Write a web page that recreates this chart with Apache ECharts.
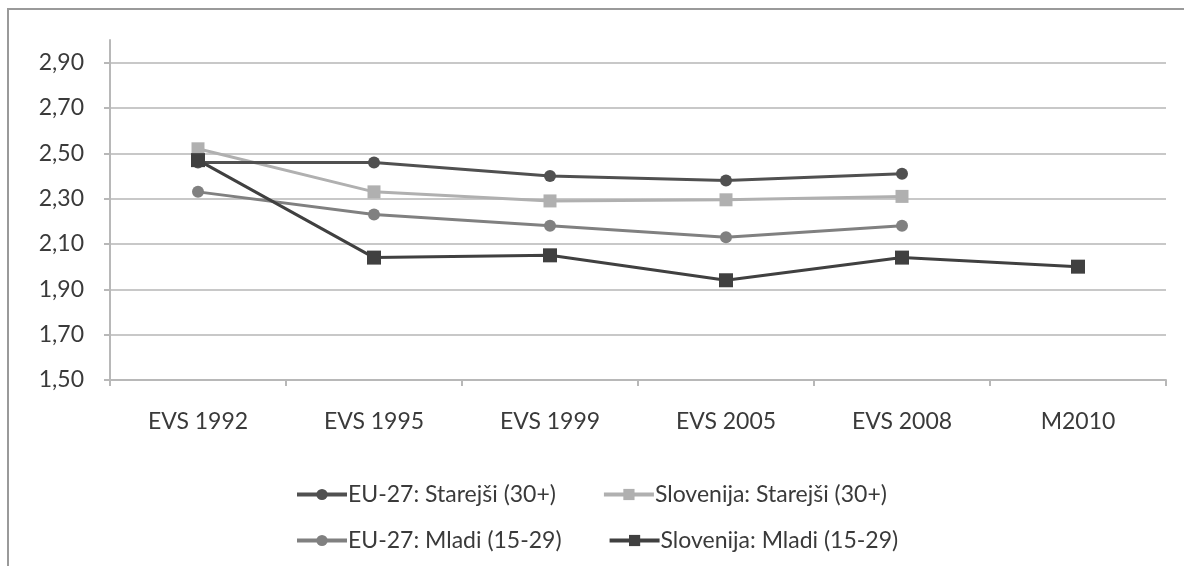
<!DOCTYPE html>
<html><head><meta charset="utf-8">
<script src="https://cdn.jsdelivr.net/npm/echarts@6/dist/echarts.min.js"></script>
<style>
html,body{margin:0;padding:0;background:#fff;}
#c{width:1184px;height:566px;}
#frame{position:absolute;left:7px;top:8px;width:1184px;height:566px;border-left:2px solid #9a9a9a;border-top:2px solid #9a9a9a;pointer-events:none;}
</style></head>
<body>
<div id="c"></div><div id="frame"></div>
<script>
const categories = ['EVS 1992','EVS 1995','EVS 1999','EVS 2005','EVS 2008','M2010'];
const euStarejsi = [2.46, 2.46, 2.40, 2.38, 2.41, null];
const sloStarejsi = [2.52, 2.33, 2.29, 2.295, 2.31, null];
const euMladi = [2.33, 2.23, 2.18, 2.13, 2.18, null];
const sloMladi = [2.47, 2.04, 2.05, 1.94, 2.04, 2.00];
const names = ['EU-27: Starejši (30+)','Slovenija: Starejši (30+)','EU-27: Mladi (15-29)','Slovenija: Mladi (15-29)'];

const FONT = 'Lato';
const FS = 23;
const txt = '#3a3a3a';
function mk(name, data, color, symbol, size, z){
  return {name, type:'line', data, symbol, symbolSize:size, z,
    lineStyle:{color, width:3}, itemStyle:{color}, connectNulls:false};
}
const legendCommon = {left:290, itemWidth:50, itemHeight:14, itemGap:46,
  lineStyle:{width:4},
  textStyle:{fontFamily:FONT, fontSize:FS, color:txt, padding:[0,0,0,-4]}};
const chart = echarts.init(document.getElementById('c'));
chart.setOption({
  animation:false,
  textStyle:{fontFamily:FONT},
  grid:{left:110, right:18, top:40, bottom:186},
  legend:[
    Object.assign({data:[names[0],names[1]], top:478}, legendCommon),
    Object.assign({data:[names[2],names[3]], top:524}, legendCommon)
  ],
  xAxis:{type:'category', data:categories, boundaryGap:true,
    axisLine:{lineStyle:{color:'#b8b8b8', width:2}},
    axisTick:{show:true, length:6, lineStyle:{color:'#b8b8b8', width:2}},
    axisLabel:{fontFamily:FONT, fontSize:FS, color:txt, margin:30}},
  yAxis:{type:'value', min:1.5, max:3.0, interval:0.2,
    axisLine:{show:true, lineStyle:{color:'#b8b8b8', width:2}},
    axisTick:{show:true, length:6, lineStyle:{color:'#b8b8b8', width:2}},
    axisLabel:{fontFamily:FONT, fontSize:FS, color:txt, margin:26, showMaxLabel:false,
      formatter:v=>v.toFixed(2).replace('.',',')},
    splitLine:{show:true, showMaxLine:false, lineStyle:{color:'#c8c8c8', width:2}}},
  series:[
    mk(names[0], euStarejsi, '#505050', 'circle', 12, 4),
    mk(names[1], sloStarejsi, '#b0b0b0', 'rect', 13, 3),
    mk(names[2], euMladi, '#808080', 'circle', 12, 2),
    mk(names[3], sloMladi, '#404040', 'rect', 14, 5)
  ]
});
</script>
</body></html>
